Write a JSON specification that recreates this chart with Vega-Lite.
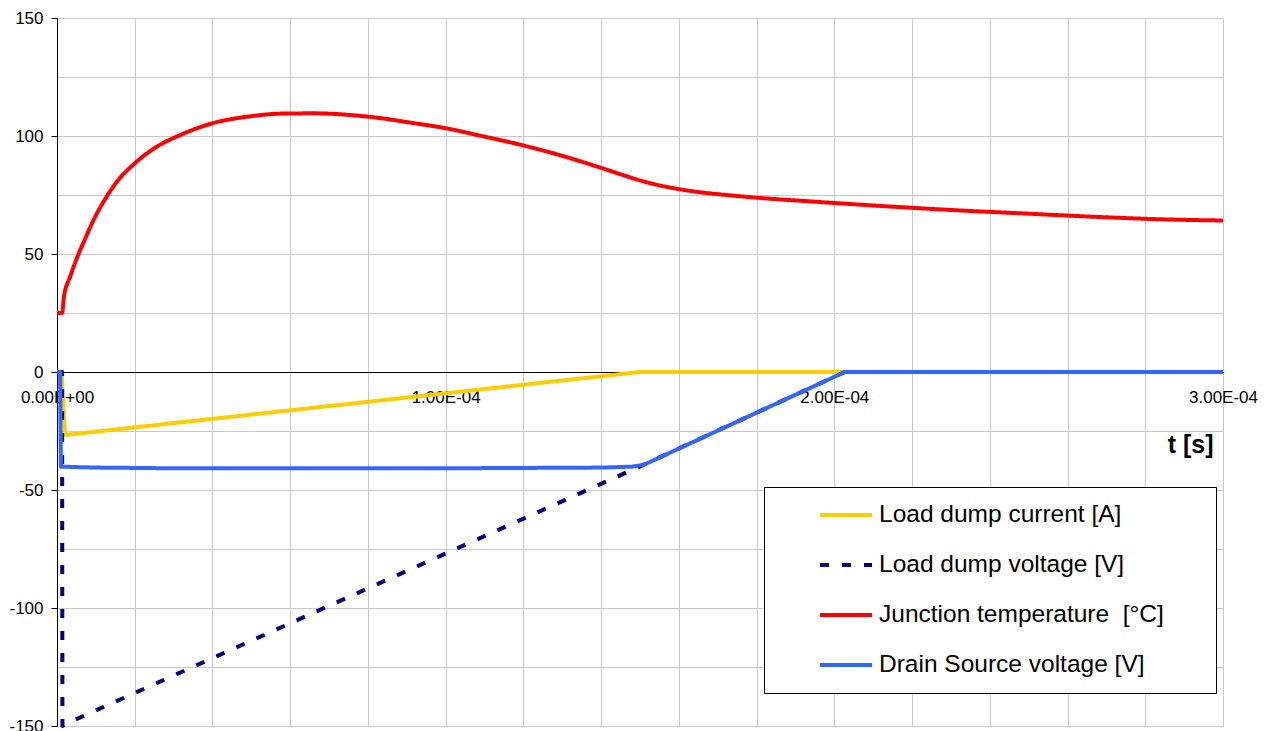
{
  "$schema": "https://vega.github.io/schema/vega-lite/v6.json",
  "width": 1166,
  "height": 708,
  "autosize": {"type": "none"},
  "padding": {"left": 57, "top": 18, "right": 46, "bottom": 5},
  "background": "white",
  "config": {
    "view": {"stroke": null},
    "font": "Liberation Sans"
  },
  "data": {
    "values": [
      {"series": "Load dump current [A]", "t": 0, "v": 0},
      {"series": "Load dump current [A]", "t": 1.2e-6, "v": 0},
      {"series": "Load dump current [A]", "t": 2.1e-6, "v": -26.7},
      {"series": "Load dump current [A]", "t": 1.5e-4, "v": 0},
      {"series": "Load dump current [A]", "t": 3.0e-4, "v": 0},

      {"series": "Load dump voltage [V]", "t": 0, "v": 0},
      {"series": "Load dump voltage [V]", "t": 1.3e-6, "v": 0},
      {"series": "Load dump voltage [V]", "t": 1.4e-6, "v": -150},
      {"series": "Load dump voltage [V]", "t": 2.0e-6, "v": -149.3},
      {"series": "Load dump voltage [V]", "t": 1.5e-4, "v": -40},
      {"series": "Load dump voltage [V]", "t": 2.027e-4, "v": 0},
      {"series": "Load dump voltage [V]", "t": 3.0e-4, "v": 0},

      {"series": "Junction temperature  [°C]", "t": 0, "v": 25},
      {"series": "Junction temperature  [°C]", "t": 1.3e-6, "v": 25},
      {"series": "Junction temperature  [°C]", "t": 1.8e-6, "v": 32},
      {"series": "Junction temperature  [°C]", "t": 3.4e-6, "v": 40.4},
      {"series": "Junction temperature  [°C]", "t": 5.1e-6, "v": 48.2},
      {"series": "Junction temperature  [°C]", "t": 7.1e-6, "v": 55.9},
      {"series": "Junction temperature  [°C]", "t": 9.4e-6, "v": 64.4},
      {"series": "Junction temperature  [°C]", "t": 1.2e-5, "v": 72.2},
      {"series": "Junction temperature  [°C]", "t": 1.54e-5, "v": 80.6},
      {"series": "Junction temperature  [°C]", "t": 2.0e-5, "v": 88.4},
      {"series": "Junction temperature  [°C]", "t": 2.57e-5, "v": 95.5},
      {"series": "Junction temperature  [°C]", "t": 3.17e-5, "v": 100.4},
      {"series": "Junction temperature  [°C]", "t": 4.0e-5, "v": 105.4},
      {"series": "Junction temperature  [°C]", "t": 4.9e-5, "v": 108.2},
      {"series": "Junction temperature  [°C]", "t": 5.8e-5, "v": 109.5},
      {"series": "Junction temperature  [°C]", "t": 6.6e-5, "v": 109.6},
      {"series": "Junction temperature  [°C]", "t": 8.0e-5, "v": 108.2},
      {"series": "Junction temperature  [°C]", "t": 9.2e-5, "v": 105.4},
      {"series": "Junction temperature  [°C]", "t": 1.0e-4, "v": 103.3},
      {"series": "Junction temperature  [°C]", "t": 1.09e-4, "v": 100.1},
      {"series": "Junction temperature  [°C]", "t": 1.2e-4, "v": 96.0},
      {"series": "Junction temperature  [°C]", "t": 1.3e-4, "v": 91.6},
      {"series": "Junction temperature  [°C]", "t": 1.4e-4, "v": 86.5},
      {"series": "Junction temperature  [°C]", "t": 1.45e-4, "v": 83.8},
      {"series": "Junction temperature  [°C]", "t": 1.5e-4, "v": 81.2},
      {"series": "Junction temperature  [°C]", "t": 1.534e-4, "v": 79.7},
      {"series": "Junction temperature  [°C]", "t": 1.6e-4, "v": 77.5},
      {"series": "Junction temperature  [°C]", "t": 1.769e-4, "v": 74.3},
      {"series": "Junction temperature  [°C]", "t": 1.947e-4, "v": 72.2},
      {"series": "Junction temperature  [°C]", "t": 2.126e-4, "v": 70.3},
      {"series": "Junction temperature  [°C]", "t": 2.306e-4, "v": 68.6},
      {"series": "Junction temperature  [°C]", "t": 2.485e-4, "v": 67.2},
      {"series": "Junction temperature  [°C]", "t": 2.665e-4, "v": 65.8},
      {"series": "Junction temperature  [°C]", "t": 2.842e-4, "v": 64.7},
      {"series": "Junction temperature  [°C]", "t": 3.0e-4, "v": 64.2},

      {"series": "Drain Source voltage [V]", "t": 0, "v": 0},
      {"series": "Drain Source voltage [V]", "t": 0.8e-6, "v": 0},
      {"series": "Drain Source voltage [V]", "t": 1.0e-6, "v": -40.1},
      {"series": "Drain Source voltage [V]", "t": 1.0e-5, "v": -40.5},
      {"series": "Drain Source voltage [V]", "t": 3.0e-5, "v": -40.8},
      {"series": "Drain Source voltage [V]", "t": 1.0e-4, "v": -40.8},
      {"series": "Drain Source voltage [V]", "t": 1.4e-4, "v": -40.5},
      {"series": "Drain Source voltage [V]", "t": 1.48e-4, "v": -40.1},
      {"series": "Drain Source voltage [V]", "t": 1.51e-4, "v": -39.3},
      {"series": "Drain Source voltage [V]", "t": 2.027e-4, "v": 0},
      {"series": "Drain Source voltage [V]", "t": 3.0e-4, "v": 0}
    ]
  },
  "encoding": {
    "x": {
      "field": "t",
      "type": "quantitative",
      "scale": {"domain": [0, 0.0003], "nice": false, "zero": false},
      "axis": {
        "values": [0, 0.00002, 0.00004, 0.00006, 0.00008, 0.0001, 0.00012, 0.00014, 0.00016, 0.00018, 0.0002, 0.00022, 0.00024, 0.00026, 0.00028, 0.0003],
        "offset": -354,
        "domainColor": "black",
        "domainWidth": 1,
        "ticks": false,
        "tickSize": 0,
        "grid": true,
        "gridColor": "#c8c8c8",
        "gridWidth": 1,
        "labelExpr": "round(datum.value * 100000) % 5 === 0 ? replace(replace(format(datum.value, '.2e'), 'e-', 'E-0'), 'e+', 'E+0') : ''",
        "labelFontSize": 17,
        "labelColor": "black",
        "labelPadding": 25,
        "labelBaseline": "middle",
        "labelOverlap": false,
        "labelFlush": false,
        "labelBound": false,
        "title": "t [s]",
        "titleFontSize": 25,
        "titleFontWeight": "bold",
        "titleColor": "black",
        "titleX": 1156,
        "titleY": 80,
        "titleAlign": "right",
        "titleBaseline": "alphabetic"
      }
    },
    "y": {
      "field": "v",
      "type": "quantitative",
      "scale": {"domain": [-150, 150], "nice": false, "zero": false},
      "axis": {
        "values": [-150, -125, -100, -75, -50, -25, 0, 25, 50, 75, 100, 125, 150],
        "domainColor": "black",
        "domainWidth": 1,
        "tickColor": "black",
        "tickSize": 6,
        "tickOpacity": {"condition": {"test": "datum.value % 50 !== 0", "value": 0}, "value": 1},
        "grid": true,
        "gridColor": "#c8c8c8",
        "gridWidth": 1,
        "labelExpr": "datum.value % 50 === 0 ? '' + datum.value : ''",
        "labelFontSize": 17,
        "labelColor": "black",
        "labelPadding": 8,
        "labelOverlap": false,
        "labelFlush": false,
        "title": null
      }
    },
    "color": {
      "field": "series",
      "type": "nominal",
      "scale": {
        "domain": ["Load dump current [A]", "Load dump voltage [V]", "Junction temperature  [°C]", "Drain Source voltage [V]"],
        "range": ["#FFCC00", "#000080", "#FF0000", "#3366FF"]
      },
      "legend": {
        "title": null,
        "orient": "none",
        "legendX": 707,
        "legendY": 469,
        "padding": 15,
        "strokeColor": "black",
        "fillColor": "white",
        "symbolType": "stroke",
        "symbolSize": 2704,
        "symbolStrokeWidth": 4,
        "symbolOffset": 39,
        "labelOffset": 5,
        "labelFontSize": 24.5,
        "labelColor": "black",
        "labelLimit": 1000,
        "rowPadding": 24,
        "clipHeight": 26,
        "labelExpr": "replace(datum.label, '  ', ' \u00a0')",
        "encode": {
          "entries": {"update": {"width": {"value": 422}}}
        }
      }
    },
    "strokeDash": {
      "field": "series",
      "type": "nominal",
      "scale": {
        "domain": ["Load dump current [A]", "Load dump voltage [V]", "Junction temperature  [°C]", "Drain Source voltage [V]"],
        "range": [[1, 0], [9, 13], [1, 0], [1, 0]]
      }
    }
  },
  "layer": [
    {
      "transform": [{"filter": "datum.series !== 'Junction temperature  [°C]'"}],
      "mark": {"type": "line", "strokeWidth": 4, "strokeJoin": "round", "strokeCap": "butt", "interpolate": "linear"}
    },
    {
      "transform": [{"filter": "datum.series === 'Junction temperature  [°C]'"}],
      "mark": {"type": "line", "strokeWidth": 4, "strokeJoin": "round", "strokeCap": "butt", "interpolate": "monotone"}
    }
  ]
}
